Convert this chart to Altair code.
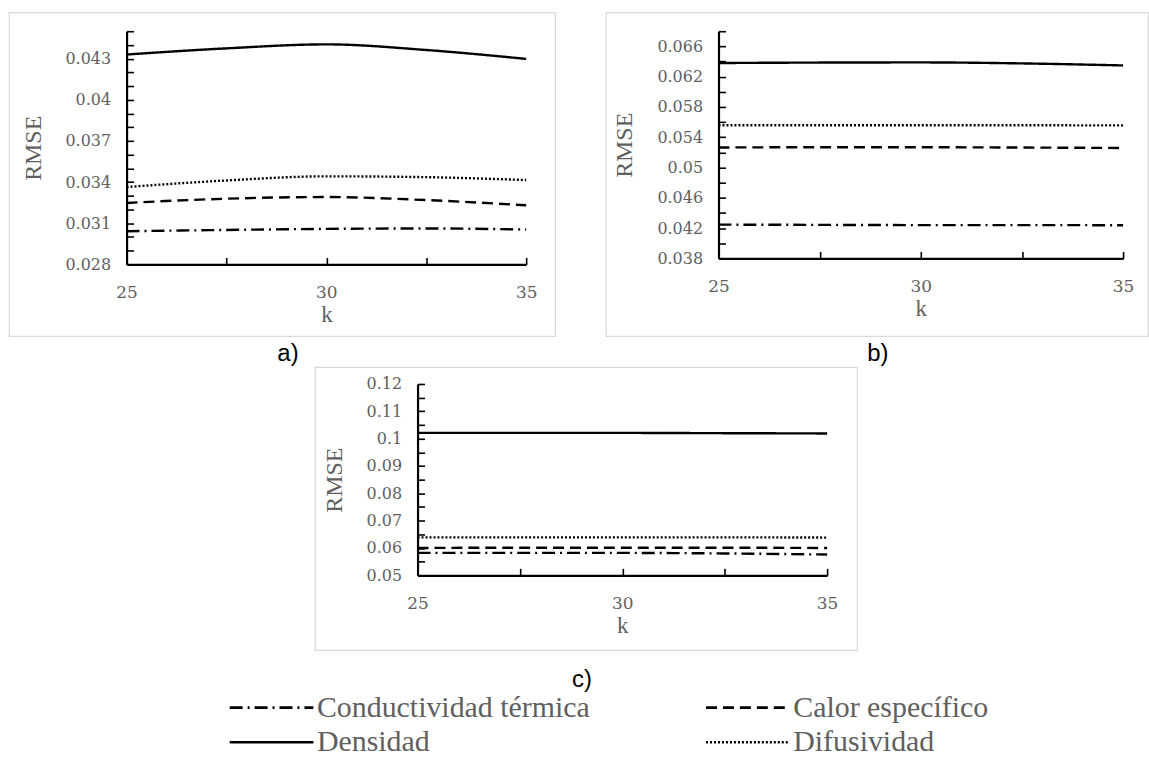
import altair as alt
import pandas as pd

# ---------------- data ----------------
k_values = [25, 27.5, 30, 32.5, 35]
series_names = ["Conductividad térmica", "Calor específico", "Densidad", "Difusividad"]
# legend order (the legend fills column by column)
legend_order = ["Conductividad térmica", "Densidad", "Calor específico", "Difusividad"]

a_conductividad = [0.03042, 0.03051, 0.03059, 0.03062, 0.03054]
a_calor = [0.03248, 0.03279, 0.03291, 0.03269, 0.03231]
a_densidad = [0.0433, 0.04375, 0.04404, 0.04363, 0.04298]
a_difusividad = [0.03364, 0.03412, 0.03442, 0.03436, 0.03415]

b_conductividad = [0.04246, 0.04243, 0.04240, 0.04240, 0.04238]
b_calor = [0.05265, 0.05268, 0.05268, 0.05264, 0.05258]
b_densidad = [0.0638, 0.06386, 0.06388, 0.06375, 0.06348]
b_difusividad = [0.05558, 0.05558, 0.05558, 0.05558, 0.05556]

c_conductividad = [0.0582, 0.0582, 0.0582, 0.0580, 0.0576]
c_calor = [0.0600, 0.0601, 0.0601, 0.0601, 0.0600]
c_densidad = [0.1021, 0.1021, 0.1021, 0.1020, 0.1019]
c_difusividad = [0.0639, 0.0639, 0.0639, 0.0639, 0.0638]

x_tick_values = [25, 27.5, 30, 32.5, 35]
x_label_values = [25, 30, 35]

a_y_domain = [0.028, 0.045]
a_y_ticks = [round(0.028 + i * 0.001, 3) for i in range(18)]
a_y_labels = [0.028, 0.031, 0.034, 0.037, 0.04, 0.043]

b_y_domain = [0.038, 0.068]
b_y_ticks = [round(0.038 + i * 0.002, 3) for i in range(16)]
b_y_labels = [0.038, 0.042, 0.046, 0.05, 0.054, 0.058, 0.062, 0.066]

c_y_domain = [0.05, 0.12]
c_y_ticks = [round(0.05 + i * 0.005, 3) for i in range(15)]
c_y_labels = [0.05, 0.06, 0.07, 0.08, 0.09, 0.1, 0.11, 0.12]

dash_by_series = {
    "Conductividad térmica": [13, 5, 2, 5],
    "Calor específico": [11, 6],
    "Densidad": [1, 0],
    "Difusividad": [2, 2],
}
dash_patterns = [dash_by_series[s] for s in legend_order]

GRAY = "#5f5f5f"
SERIF = "DejaVu Serif"
TEXT_SERIF = "Liberation Serif"


def make_df(cond, cal, dens, dif):
    rows = []
    for name, vals in zip(series_names, [cond, cal, dens, dif]):
        for k, v in zip(k_values, vals):
            rows.append({"k": k, "value": v, "series": name})
    return pd.DataFrame(rows)


legend_def = alt.Legend(
    title=None,
    orient="none",
    legendX=276,
    legendY=682,
    columns=2,
    columnPadding=110,
    rowPadding=4,
    padding=0,
    symbolType="M-5,0H1",
    symbolSize=784,
    symbolStrokeWidth=2.6,
    symbolStrokeColor="black",
    symbolFillColor="transparent",
    labelFont=TEXT_SERIF,
    labelFontSize=30,
    labelColor=GRAY,
    labelOffset=2,
    labelLimit=600,
)


def panel(df, W, H, xr, yr, ydom, yticks, ylabels, letter, t_dx, t_off):
    xs = alt.Scale(domain=[25, 35], range=xr, nice=False, zero=False)
    ys = alt.Scale(domain=ydom, range=yr, nice=False, zero=False)
    lines = alt.Chart(df).mark_line(
        strokeWidth=2.4, color="black", interpolate="monotone"
    ).encode(
        x=alt.X("k:Q", scale=xs, axis=alt.Axis(
            orient="top", offset=-yr[0], values=x_tick_values, labels=False,
            title=None, grid=False, ticks=True, tickSize=7, tickWidth=1.6,
            tickColor="black", domain=True, domainColor="black", domainWidth=2.2)),
        y=alt.Y("value:Q", scale=ys, axis=alt.Axis(
            orient="right", offset=xr[0] - W, values=yticks, labels=False,
            title=None, grid=False, ticks=True, tickSize=7, tickWidth=1.6,
            tickColor="black", domain=True, domainColor="black", domainWidth=2.2)),
        strokeDash=alt.StrokeDash(
            "series:N",
            scale=alt.Scale(domain=legend_order, range=dash_patterns),
            legend=legend_def,
        ),
    )
    labels_layer = alt.Chart(df).mark_point(opacity=0).encode(
        x=alt.X("k:Q", scale=xs, axis=alt.Axis(
            orient="bottom", offset=yr[0] - H, values=x_label_values,
            ticks=False, tickSize=0, domain=False, grid=False,
            labelFlush=False, labelOverlap=False,
            labelFont=SERIF, labelFontSize=17, labelColor=GRAY, labelPadding=20,
            title="k", titleFont=TEXT_SERIF, titleFontSize=23,
            titleFontWeight="normal", titleColor=GRAY, titlePadding=3)),
        y=alt.Y("value:Q", scale=ys, axis=alt.Axis(
            orient="left", offset=-xr[0], values=ylabels, format="~g",
            ticks=False, tickSize=0, domain=False, grid=False,
            labelOverlap=False,
            labelFont=SERIF, labelFontSize=16, labelColor=GRAY, labelPadding=16,
            title="RMSE", titleFont=TEXT_SERIF, titleFontSize=24,
            titleFontWeight="normal", titleColor=GRAY, titlePadding=20)),
    )
    return alt.layer(lines, labels_layer).resolve_scale(
        x="independent", y="independent"
    ).properties(
        width=W, height=H,
        title=alt.TitleParams(
            letter, orient="bottom", anchor="middle", font="Liberation Sans",
            fontSize=24, fontWeight="normal", color="black", offset=t_off, dx=t_dx),
    )


df_a = make_df(a_conductividad, a_calor, a_densidad, a_difusividad)
df_b = make_df(b_conductividad, b_calor, b_densidad, b_difusividad)
df_c = make_df(c_conductividad, c_calor, c_densidad, c_difusividad)

panel_a = panel(df_a, 548, 325, [118, 519], [253, 19], a_y_domain, a_y_ticks, a_y_labels, "a)", 6, 6)
panel_b = panel(df_b, 544, 325, [113, 519], [247, 19], b_y_domain, b_y_ticks, b_y_labels, "b)", 1, 6)
panel_c = panel(df_c, 544, 284, [103, 514], [209, 17], c_y_domain, c_y_ticks, c_y_labels, "c)", -4, 18)

spacer = alt.Chart(pd.DataFrame({"v": [0]})).mark_point(opacity=0).properties(
    width=305, height=1, view=alt.ViewBackground(stroke="transparent")
)

top_row = alt.hconcat(panel_a, panel_b, spacing=49)
mid_row = alt.hconcat(spacer, panel_c, spacing=0)

chart = alt.vconcat(top_row, mid_row, spacing=-3).resolve_scale(
    strokeDash="shared"
).resolve_legend(strokeDash="shared").properties(
    padding={"left": 8, "top": 10, "right": 0, "bottom": 0},
    background="white",
).configure_view(stroke="#d9d9d9", strokeWidth=1.2)

chart.save("out.html", embed_options={"renderer": "svg", "actions": False})
